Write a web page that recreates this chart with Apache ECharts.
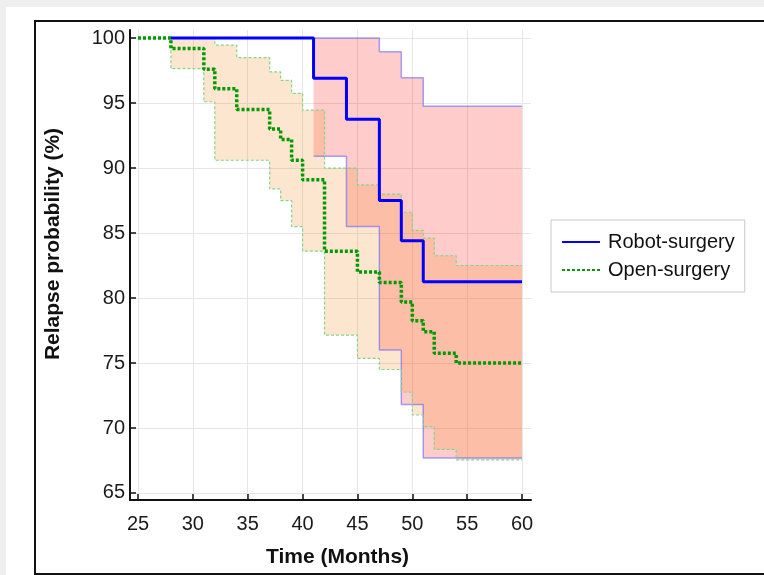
<!DOCTYPE html>
<html>
<head>
<meta charset="utf-8">
<script src="https://cdn.jsdelivr.net/npm/echarts@6/dist/echarts.min.js"></script>
<style>
  html, body { margin: 0; padding: 0; background: #efefef; }
  #main { width: 764px; height: 575px; }
</style>
</head>
<body>
<div id="main"></div>
<script>
// Kaplan-Meier style step curves: value holds from each time until the next one
const robotTime = [28, 41, 44, 47, 49, 51, 60];
const robotSurv = [100, 96.9, 93.75, 87.5, 84.4, 81.25, 81.25];
const robotUpperTime = [41, 47, 49, 51, 60];
const robotUpper = [100, 98.95, 96.95, 94.75, 94.75];
const robotLowerTime = [41, 44, 47, 49, 51, 60];
const robotLower = [90.9, 85.5, 76.0, 71.8, 67.7, 67.7];

const openTime = [25, 28, 31, 32, 34, 37, 38, 39, 40, 42, 45, 47, 49, 50, 51, 52, 54, 60];
const openSurv = [100, 99.2, 97.6, 96.1, 94.5, 93.0, 92.2, 90.6, 89.1, 83.6, 82.0, 81.2, 79.7, 78.25, 77.4, 75.75, 75.0, 75.0];
const openUpperTime = [25, 32, 34, 37, 38, 39, 40, 42, 45, 47, 49, 50, 51, 52, 54, 60];
const openUpper = [100, 99.45, 98.5, 97.4, 96.75, 95.75, 94.45, 90.0, 88.7, 88.0, 86.6, 85.2, 84.6, 83.25, 82.5, 82.5];
const openLowerTime = [25, 28, 31, 32, 37, 38, 39, 40, 42, 45, 47, 49, 50, 51, 52, 54, 60];
const openLower = [100, 97.65, 95.1, 90.6, 88.4, 87.5, 85.5, 83.6, 77.15, 75.35, 74.5, 72.75, 71.0, 70.1, 68.35, 67.55, 67.55];

const xTicks = [25, 30, 35, 40, 45, 50, 55, 60];
const yTicks = [65, 70, 75, 80, 85, 90, 95, 100];

const FONT = '"Liberation Sans", Arial, sans-serif';

function pairs(times, vals) {
    return times.map((t, i) => [t, vals[i]]);
}

// corner points of a step function, in data units
function stepCorners(times, vals) {
    const pts = [];
    times.forEach((t, i) => {
        pts.push([t, vals[i]]);
        if (i + 1 < times.length) pts.push([times[i + 1], vals[i]]);
    });
    return pts;
}

function bandSeries(upT, up, loT, lo, color) {
    return {
        type: 'custom',
        silent: true,
        z: 1,
        data: [[upT[0], up[0]]],
        renderItem: function (params, api) {
            const top = stepCorners(upT, up);
            const bottom = stepCorners(loT, lo).reverse();
            const points = top.concat(bottom).map(p => api.coord(p));
            return {
                type: 'polygon',
                shape: { points: points },
                style: { fill: color, stroke: null }
            };
        }
    };
}

function ciLine(times, vals, color, type, width) {
    return {
        type: 'line',
        step: 'end',
        silent: true,
        symbol: 'none',
        z: 2,
        lineStyle: { color: color, width: width, type: type },
        data: pairs(times, vals)
    };
}

const chart = echarts.init(document.getElementById('main'), null, { renderer: 'canvas' });

chart.setOption({
    animation: false,
    backgroundColor: '#efefef',
    graphic: [
        { type: 'rect', z: -10, shape: { x: 6, y: 7, width: 800, height: 600 }, style: { fill: '#ffffff' } },
        { type: 'rect', z: -9, shape: { x: 35, y: 21, width: 800, height: 553 }, style: { fill: 'none', stroke: '#111', lineWidth: 2 } },
        {
            type: 'text', z: 5, x: 53, y: 244, rotation: Math.PI / 2,
            style: { text: 'Relapse probability (%)', font: 'bold 21px ' + FONT, fill: '#111', align: 'center', verticalAlign: 'middle' }
        }
    ],
    legend: {
        orient: 'vertical',
        left: 551,
        top: 220,
        padding: [12, 10, 12, 10],
        itemWidth: 38,
        itemHeight: 14,
        itemGap: 8,
        borderColor: '#c8c8c8',
        borderWidth: 1,
        backgroundColor: '#fff',
        itemStyle: { opacity: 0 },
        textStyle: { fontFamily: FONT, fontSize: 20, color: '#111', padding: [0, 0, 0, 3] },
        data: ['Robot-surgery', 'Open-surgery']
    },
    grid: { left: 130, top: 30, width: 401, height: 470, containLabel: false },
    xAxis: {
        type: 'value',
        min: 24.27,
        max: 60.82,
        name: 'Time (Months)',
        nameLocation: 'middle',
        nameGap: 47,
        nameTextStyle: { fontFamily: FONT, fontSize: 21, fontWeight: 'bold', color: '#111', padding: [0, 0, 0, 14] },
        axisLine: { onZero: false, lineStyle: { color: '#111', width: 2 } },
        axisTick: { inside: true, length: 6, customValues: xTicks, lineStyle: { color: '#111', width: 1.5 } },
        axisLabel: { customValues: xTicks, margin: 14, fontFamily: FONT, fontSize: 20, color: '#1a1a1a' },
        splitLine: { show: true, lineStyle: { color: '#e6e6e6', width: 1 } }
    },
    yAxis: {
        type: 'value',
        min: 64.46,
        max: 100.62,
        axisLine: { onZero: false, lineStyle: { color: '#111', width: 2 } },
        axisTick: { inside: true, length: 6, customValues: yTicks, lineStyle: { color: '#111', width: 1.5 } },
        axisLabel: { customValues: yTicks, margin: 5, fontFamily: FONT, fontSize: 20, color: '#1a1a1a' },
        splitLine: { show: true, lineStyle: { color: '#e6e6e6', width: 1 } }
    },
    series: [
        bandSeries(robotUpperTime, robotUpper, robotLowerTime, robotLower, 'rgba(255,0,0,0.2)'),
        bandSeries(openUpperTime, openUpper, openLowerTime, openLower, 'rgba(248,140,40,0.22)'),
        ciLine(robotUpperTime, robotUpper, 'rgba(90,90,255,0.55)', 'solid', 1.5),
        ciLine(robotLowerTime, robotLower, 'rgba(90,90,255,0.55)', 'solid', 1.5),
        ciLine(openUpperTime, openUpper, '#86d486', [3, 2], 1.2),
        ciLine(openLowerTime, openLower, '#86d486', [3, 2], 1.2),
        {
            name: 'Open-surgery',
            type: 'line',
            step: 'end',
            symbol: 'none',
            z: 3,
            lineStyle: { color: '#009a00', width: 3.5, type: [3, 2] },
            itemStyle: { color: '#009a00' },
            data: pairs(openTime, openSurv)
        },
        {
            name: 'Robot-surgery',
            type: 'line',
            step: 'end',
            symbol: 'none',
            z: 4,
            lineStyle: { color: '#0000ff', width: 3 },
            itemStyle: { color: '#0000ff' },
            data: pairs(robotTime, robotSurv)
        }
    ]
});
</script>
</body>
</html>
